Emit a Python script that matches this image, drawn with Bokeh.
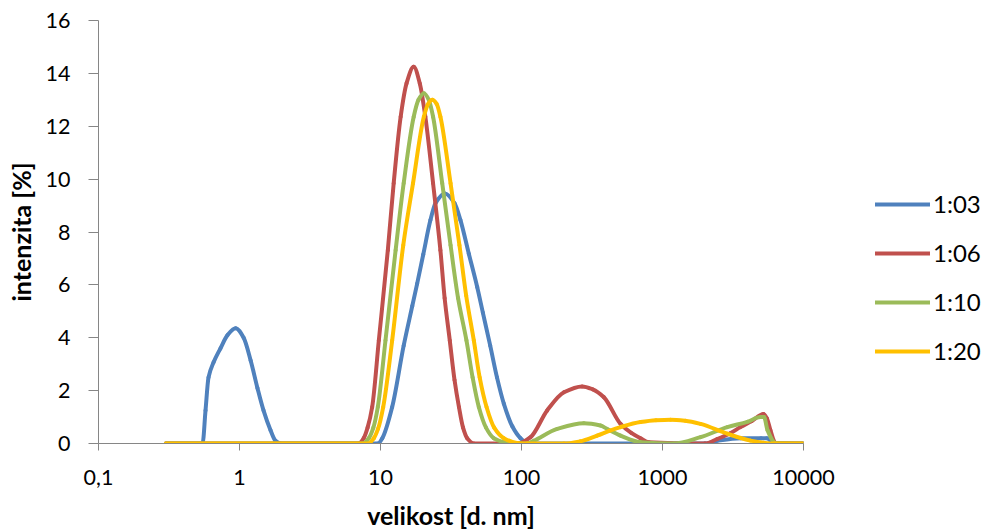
import math

from bokeh.plotting import figure
from bokeh.layouts import row
from bokeh.models import Range1d, FixedTicker, CustomJSTickFormatter, Legend, LegendItem
from bokeh.embed import file_html
from bokeh.resources import INLINE

# Size distribution by intensity (DLS) for four dilution ratios
size_103 = [0.3, 0.547, 0.574, 0.603, 0.655, 0.733, 0.822, 0.94, 1.07, 1.2, 1.34, 1.48, 1.66, 1.8, 1.95,
            9.6, 10.3, 12.1, 14.6, 16.8, 18.2, 20.1, 22.6, 24.5, 28.6, 33.6, 36.9, 42.3, 48.5, 53.2, 60.0,
            67.0, 75.0, 86.0, 98.4, 110.0, 125.0,
            2000.0, 2440.0, 3570.0, 5000.0, 5500.0, 6200.0, 10000.0]
int_103 = [0, 0, 1.25, 2.5, 3.07, 3.6, 4.1, 4.36, 4.0, 3.14, 2.1, 1.25, 0.5, 0.1, 0,
           0, 0.2, 1.38, 3.7, 5.2, 6.05, 7.15, 8.45, 9.08, 9.46, 9.08, 8.45, 7.18, 5.92, 4.95, 3.7,
           2.5, 1.5, 0.65, 0.2, 0.02, 0,
           0, 0.1, 0.2, 0.2, 0.2, 0, 0]

size_106 = [0.3, 7.0, 7.6, 8.1, 8.73, 9.73, 11.27, 12.4, 13.9, 15.3, 17.2, 19.0, 20.8, 23.6, 26.6, 28.5,
            31.0, 33.5, 36.0, 38.5, 41.2, 46.0, 95.0, 116.0, 152.0, 200.0, 269.0, 320.0, 384.0, 504.0,
            600.0, 698.0, 800.0, 2000.0, 2440.0, 3000.0, 3570.0, 4300.0, 5200.0, 5500.0, 5830.0, 6330.0, 10000.0]
int_106 = [0, 0, 0.2, 0.6, 1.38, 3.9, 7.31, 9.84, 12.36, 13.62, 14.25, 13.62, 12.36, 9.84, 7.31, 5.5,
           3.9, 2.4, 1.38, 0.6, 0.2, 0, 0, 0.24, 1.25, 1.94, 2.16, 2.05, 1.75, 0.74,
           0.4, 0.2, 0.05, 0, 0.17, 0.38, 0.62, 0.85, 1.12, 0.95, 0.5, 0.02, 0]

size_110 = [0.3, 7.5, 8.26, 8.9, 9.57, 10.85, 12.8, 14.6, 17.2, 18.6, 20.3, 22.0, 23.6, 27.4, 31.4, 35.5,
            40.7, 45.0, 49.8, 56.0, 63.6, 75.0, 88.0, 110.0, 122.0, 179.0, 277.0, 363.0, 405.0, 504.0,
            698.0, 1200.0, 1860.0, 2880.0, 4000.0, 4950.0, 5250.0, 5560.0, 6330.0, 10000.0]
int_110 = [0, 0, 0.2, 0.6, 1.38, 3.9, 7.31, 9.84, 12.36, 13.0, 13.25, 13.0, 12.36, 9.84, 7.5, 5.5,
           3.9, 2.5, 1.38, 0.6, 0.2, 0.05, 0, 0, 0.1, 0.55, 0.77, 0.68, 0.55, 0.3,
           0.05, 0, 0.24, 0.62, 0.82, 1.0, 1.0, 0.5, 0.02, 0]

size_120 = [0.3, 8.2, 8.97, 9.6, 10.45, 12.1, 14.5, 17.0, 20.3, 21.8, 23.3, 25.0, 26.6, 31.4, 36.3, 40.5,
            45.9, 50.5, 56.5, 64.0, 75.0, 93.0, 110.0, 200.0, 260.0, 344.0, 420.0, 504.0, 698.0, 900.0,
            1140.0, 1450.0, 1860.0, 2880.0, 4210.0, 5200.0, 6200.0, 10000.0]
int_120 = [0, 0, 0.2, 0.55, 1.38, 3.9, 7.5, 9.84, 12.36, 12.85, 13.0, 12.85, 12.36, 9.84, 7.5, 5.6,
           3.9, 2.5, 1.38, 0.6, 0.2, 0.02, 0, 0, 0.08, 0.3, 0.48, 0.62, 0.81, 0.88,
           0.9, 0.86, 0.74, 0.37, 0.11, 0.03, 0, 0]

series_names = ["1:03", "1:06", "1:10", "1:20"]
series_colors = ["#4F81BD", "#C0504D", "#9BBB59", "#FFC000"]
x_ticks = [0.1, 1, 10, 100, 1000, 10000]
y_ticks = [0, 2, 4, 6, 8, 10, 12, 14, 16]

FONT = "Lato"
AXIS_GREY = "#868686"
HEIGHT = 532
CHART_WIDTH = 835
LEGEND_WIDTH = 984 - CHART_WIDTH


def smooth_curve(xs, ys):
    """Monotone cubic (Fritsch-Carlson) Bezier segments through the points, in log-x space."""
    u = [math.log10(x) for x in xs]
    n = len(u)
    d = [(ys[i + 1] - ys[i]) / (u[i + 1] - u[i]) for i in range(n - 1)]
    m = [0.0] * n
    m[0], m[-1] = d[0], d[-1]
    for i in range(1, n - 1):
        if d[i - 1] * d[i] <= 0:
            m[i] = 0.0
        else:
            h0, h1 = u[i] - u[i - 1], u[i + 1] - u[i]
            w1, w2 = 2 * h1 + h0, h1 + 2 * h0
            m[i] = (w1 + w2) / (w1 / d[i - 1] + w2 / d[i])
    seg = dict(x0=[], y0=[], x1=[], y1=[], cx0=[], cy0=[], cx1=[], cy1=[])
    for i in range(n - 1):
        h = u[i + 1] - u[i]
        seg["x0"].append(xs[i]); seg["y0"].append(ys[i])
        seg["x1"].append(xs[i + 1]); seg["y1"].append(ys[i + 1])
        seg["cx0"].append(10 ** (u[i] + h / 3)); seg["cy0"].append(ys[i] + m[i] * h / 3)
        seg["cx1"].append(10 ** (u[i + 1] - h / 3)); seg["cy1"].append(ys[i + 1] - m[i + 1] * h / 3)
    return seg


# --- main chart -------------------------------------------------------------
p = figure(width=CHART_WIDTH, height=HEIGHT, x_axis_type="log",
           x_range=Range1d(0.1, 10000), y_range=Range1d(0, 16),
           output_backend="svg", toolbar_location=None,
           min_border_left=98, min_border_right=32, min_border_top=20, min_border_bottom=89)
p.outline_line_color = None
p.xgrid.visible = False
p.ygrid.visible = False
p.background_fill_color = "white"
p.border_fill_color = "white"

xa = p.xaxis[0]
xa.ticker = FixedTicker(ticks=x_ticks, minor_ticks=[])
xa.formatter = CustomJSTickFormatter(
    code="return tick < 1 ? tick.toString().replace('.', ',') : tick.toFixed(0);")
xa.axis_label = "velikost [d. nm]"

ya = p.yaxis[0]
ya.ticker = FixedTicker(ticks=y_ticks, minor_ticks=[])
ya.axis_label = "intenzita [%]"

for ax in (xa, ya):
    ax.axis_line_color = AXIS_GREY
    ax.major_tick_line_color = AXIS_GREY
    ax.major_tick_in = 0
    ax.minor_tick_in = 0
    ax.minor_tick_out = 0
    ax.major_label_text_font = FONT
    ax.major_label_text_font_size = "21.5px"
    ax.major_label_text_color = "#000000"
    ax.axis_label_text_font = FONT
    ax.axis_label_text_font_size = "25px"
    ax.axis_label_text_font_style = "bold"
    ax.axis_label_text_color = "#000000"

xa.major_tick_out = 7
xa.major_label_standoff = 19
xa.axis_label_standoff = 12
ya.major_tick_out = 10
ya.major_label_standoff = 18
ya.axis_label_standoff = 7

for xs, ys, color in zip([size_103, size_106, size_110, size_120],
                         [int_103, int_106, int_110, int_120], series_colors):
    p.bezier(source=smooth_curve(xs, ys), x0="x0", y0="y0", x1="x1", y1="y1",
             cx0="cx0", cy0="cy0", cx1="cx1", cy1="cy1",
             line_color=color, line_width=4, line_cap="round")

# --- legend panel -----------------------------------------------------------
lg = figure(width=LEGEND_WIDTH, height=HEIGHT, x_range=Range1d(0, 1), y_range=Range1d(0, 1),
            output_backend="svg", toolbar_location=None,
            min_border_left=0, min_border_right=0, min_border_top=0, min_border_bottom=0)
lg.axis.visible = False
lg.grid.visible = False
lg.outline_line_color = None
lg.background_fill_color = "white"
lg.border_fill_color = "white"

legend_items = []
for name, color in zip(series_names, series_colors):
    key = lg.line([0, 1], [0, 0], line_color=color, line_width=4, line_cap="round", visible=False)
    legend_items.append(LegendItem(label=name, renderers=[key]))

legend = Legend(items=legend_items, location=(40, 78), orientation="vertical",
                glyph_width=55, glyph_height=28, label_height=28, spacing=20,
                label_standoff=3, padding=0, margin=0,
                border_line_color=None, background_fill_alpha=0,
                label_text_font=FONT, label_text_font_size="24px", label_text_color="#000000")
lg.add_layout(legend, "center")

layout = row(p, lg, spacing=0)
open("out.html", "w").write(file_html(layout, INLINE))
